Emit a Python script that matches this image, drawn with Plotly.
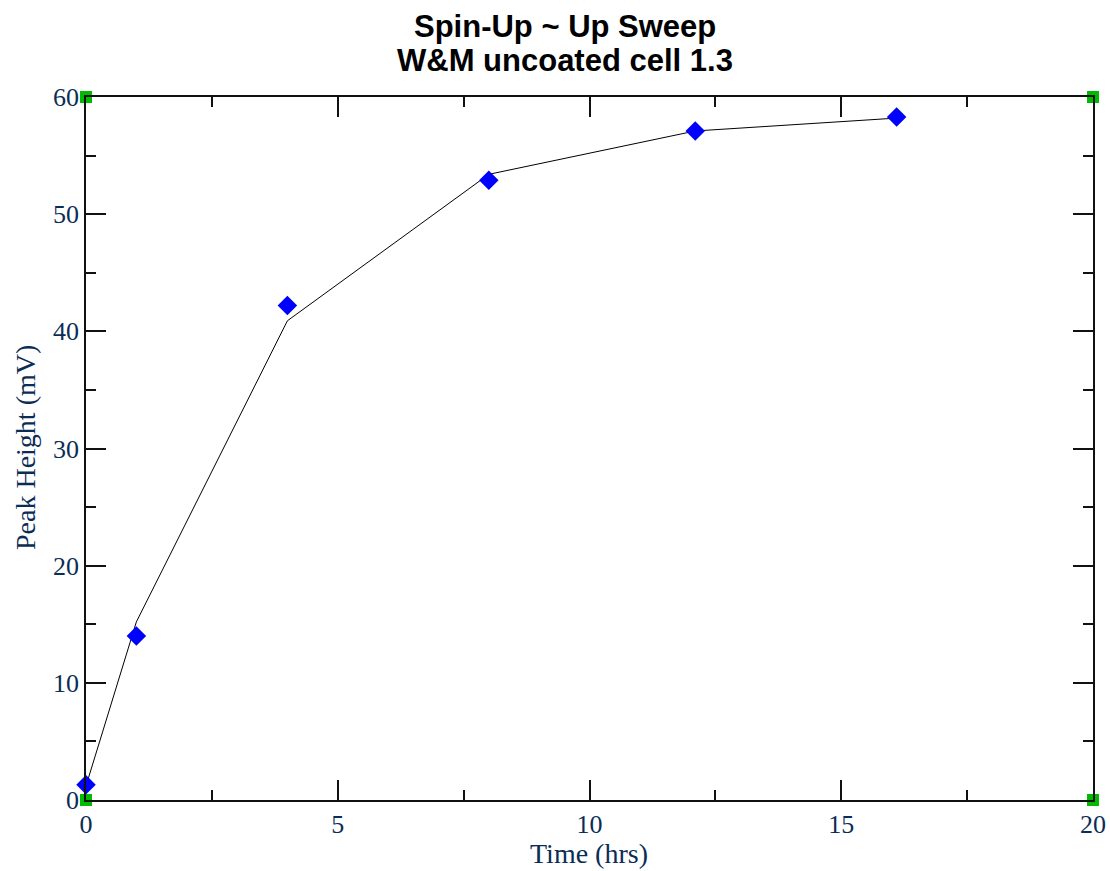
import plotly.graph_objects as go

# Measured data points (blue diamonds)
time_hrs = [0, 1, 4, 8, 12.1, 16.1]
peak_mv = [1.3, 14.0, 42.2, 52.9, 57.1, 58.3]

# Connecting line (black)
line_time = [0, 1, 4, 8, 12.1, 16.1]
line_mv = [1.2, 15.2, 40.9, 53.4, 57.1, 58.2]

# Green corner markers
corner_x = [0, 0, 20, 20]
corner_y = [0, 60, 0, 60]

title_lines = ["Spin-Up ~ Up Sweep", "W&M uncoated cell 1.3"]
x_title = "Time (hrs)"
y_title = "Peak Height (mV)"

label_color = "#0b2d55"
serif = "Liberation Serif, Times New Roman, serif"
sans = "Liberation Sans, Arial, sans-serif"

fig = go.Figure()
fig.add_trace(go.Scatter(x=line_time, y=line_mv, mode="lines",
                         line=dict(color="black", width=1), cliponaxis=False,
                         showlegend=False, hoverinfo="skip"))
fig.add_trace(go.Scatter(x=time_hrs, y=peak_mv, mode="markers",
                         marker=dict(symbol="diamond", size=15, color="#0000ff"),
                         cliponaxis=False, showlegend=False))
fig.add_trace(go.Scatter(x=corner_x, y=corner_y, mode="markers",
                         marker=dict(symbol="square", size=12, color="#00bb00"),
                         cliponaxis=False, showlegend=False))

axis_common = dict(
    showgrid=False, zeroline=False, showline=True, linecolor="#111", linewidth=1.5,
    mirror="allticks", ticks="inside", ticklen=20, tickwidth=1.5, tickcolor="#111",
    tickfont=dict(family=serif, size=26, color=label_color), automargin=False,
)

fig.update_xaxes(range=[0, 20], tickvals=[0, 5, 10, 15, 20],
                 minor=dict(dtick=2.5, ticklen=10, tickwidth=1.5, tickcolor="#111", ticks="inside"),
                 **axis_common)
fig.update_yaxes(range=[0, 60], tickvals=[0, 10, 20, 30, 40, 50, 60],
                 minor=dict(dtick=5, ticklen=10, tickwidth=1.5, tickcolor="#111", ticks="inside"),
                 **axis_common)

anns = []
for i, line in enumerate(title_lines):
    anns.append(dict(text="<b>%s</b>" % line, xref="paper", yref="paper",
                     x=(565 - 86) / (1093 - 86), y=1 + (97 - (27 + 33 * i)) / (800 - 97),
                     xanchor="center", yanchor="middle", showarrow=False,
                     font=dict(family=sans, size=31, color="black")))
anns.append(dict(text=x_title, xref="paper", yref="paper",
                 x=(589 - 86) / (1093 - 86), y=-(853 - 800) / (800 - 97),
                 xanchor="center", yanchor="middle", showarrow=False,
                 font=dict(family=serif, size=28, color=label_color)))
anns.append(dict(text=y_title, xref="paper", yref="paper",
                 x=-(86 - 25) / (1093 - 86), y=(800 - 448) / (800 - 97),
                 xanchor="center", yanchor="middle", showarrow=False, textangle=-90,
                 font=dict(family=serif, size=28, color=label_color)))

fig.update_layout(
    width=1110, height=871,
    margin=dict(l=86, r=17, t=97, b=71, autoexpand=False),
    paper_bgcolor="white", plot_bgcolor="white",
    annotations=anns,
)

fig.write_html("out.html")
